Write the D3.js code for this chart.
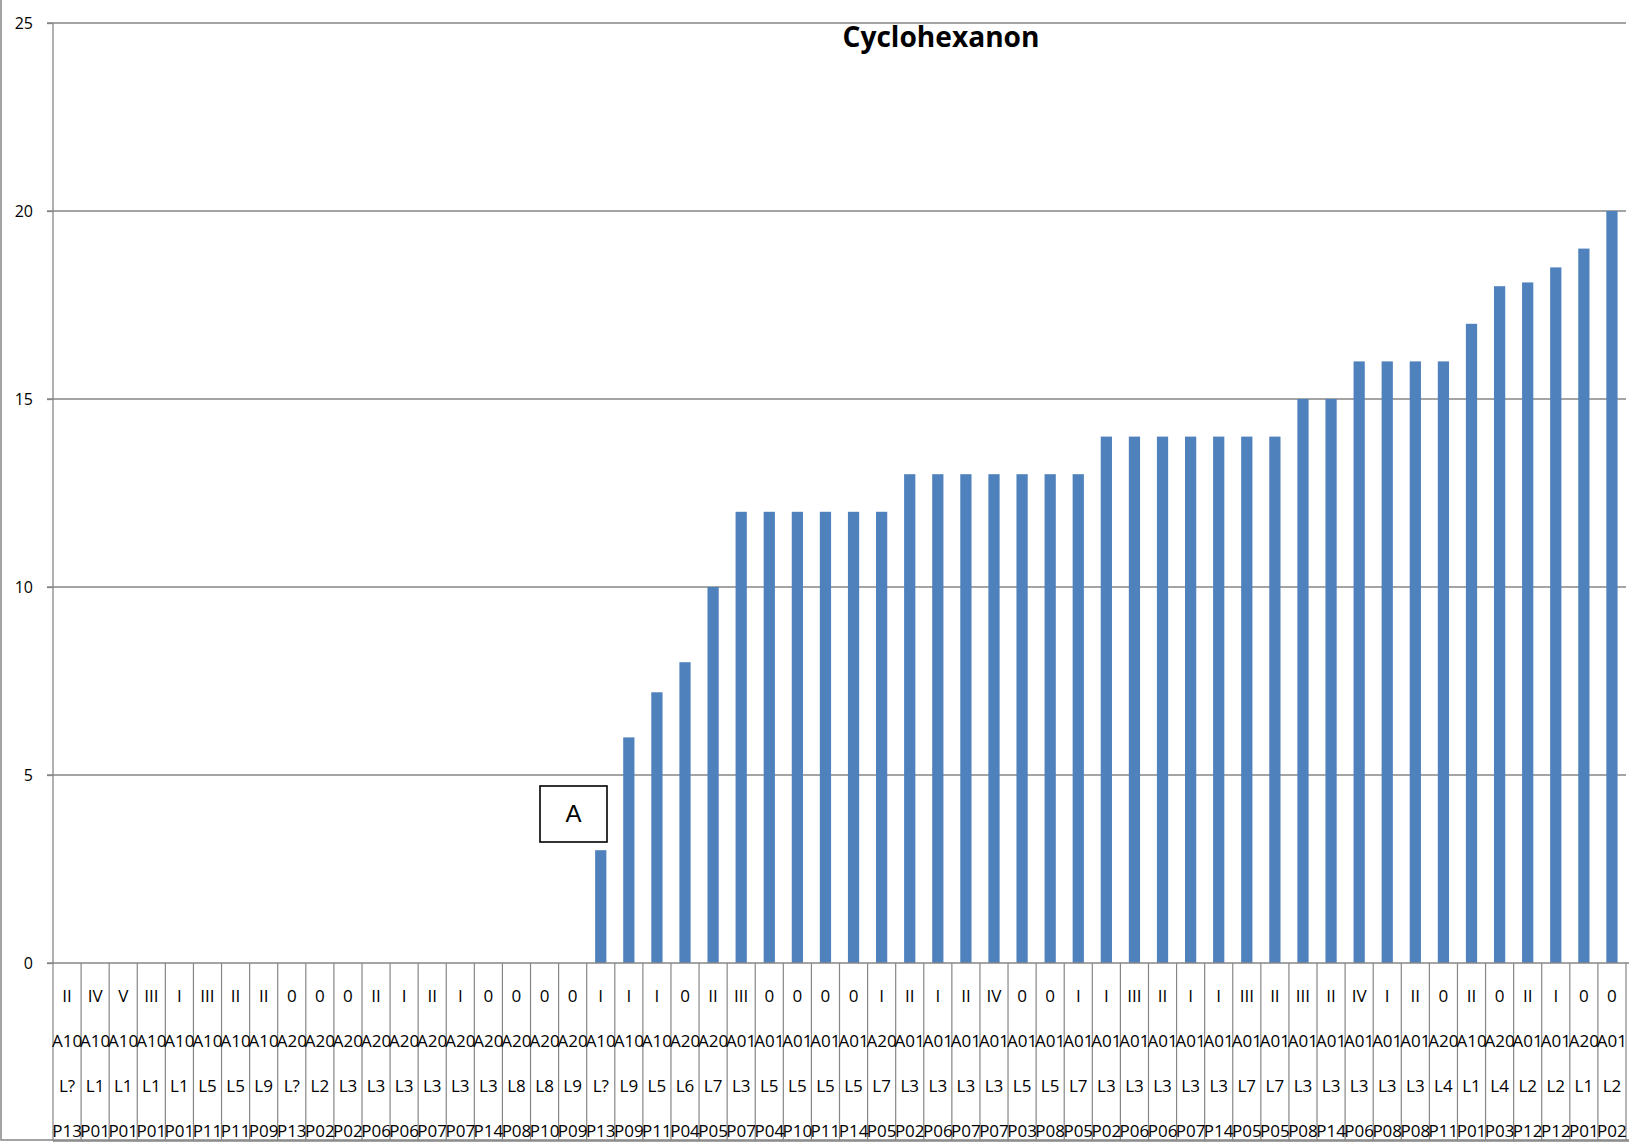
<!DOCTYPE html>
<html><head><meta charset="utf-8">
<script src="https://cdn.jsdelivr.net/npm/d3@7"></script>
<style>
html,body{margin:0;padding:0;background:#fff;}
svg{display:block;font-family:"Open Sans","Liberation Sans",sans-serif;}
</style></head>
<body>
<svg id="chart" width="1629" height="1144"></svg>
<script>
const title = "Cyclohexanon";
const classRow = ["II","IV","V","III","I","III","II","II","0","0","0","II","I","II","I","0","0","0","0","I","I","I","0","II","III","0","0","0","0","I","II","I","II","IV","0","0","I","I","III","II","I","I","III","II","III","II","IV","I","II","0","II","0","II","I","0","0"];
const areaRow = ["A10","A10","A10","A10","A10","A10","A10","A10","A20","A20","A20","A20","A20","A20","A20","A20","A20","A20","A20","A10","A10","A10","A20","A20","A01","A01","A01","A01","A01","A20","A01","A01","A01","A01","A01","A01","A01","A01","A01","A01","A01","A01","A01","A01","A01","A01","A01","A01","A01","A20","A10","A20","A01","A01","A20","A01"];
const layerRow = ["L?","L1","L1","L1","L1","L5","L5","L9","L?","L2","L3","L3","L3","L3","L3","L3","L8","L8","L9","L?","L9","L5","L6","L7","L3","L5","L5","L5","L5","L7","L3","L3","L3","L3","L5","L5","L7","L3","L3","L3","L3","L3","L7","L7","L3","L3","L3","L3","L3","L4","L1","L4","L2","L2","L1","L2"];
const posRow = ["P13","P01","P01","P01","P01","P11","P11","P09","P13","P02","P02","P06","P06","P07","P07","P14","P08","P10","P09","P13","P09","P11","P04","P05","P07","P04","P10","P11","P14","P05","P02","P06","P07","P07","P03","P08","P05","P02","P06","P06","P07","P14","P05","P05","P08","P14","P06","P08","P08","P11","P01","P03","P12","P12","P01","P02"];
const values = [0,0,0,0,0,0,0,0,0,0,0,0,0,0,0,0,0,0,0,3,6,7.2,8,10,12,12,12,12,12,12,13,13,13,13,13,13,13,14,14,14,14,14,14,14,15,15,16,16,16,16,17,18,18.1,18.5,19,20];
const yTicks = [0,5,10,15,20,25];
const annotation = "A";

const svg = d3.select("#chart");
const L = 53, R = 1626, T = 23, B = 963, TB = 1141;
const idx = d3.range(values.length);
const x = d3.scaleBand().domain(idx).range([L, R]).paddingInner(0.6).paddingOuter(0.3);
const xb = d3.scaleBand().domain(idx).range([L, R]);
const y = d3.scaleLinear().domain([0, 25]).range([B, T]);
const grey = "#868686";

// outer frame
svg.append("rect").attr("x",1).attr("y",-2).attr("width",1640).attr("height",TB+1)
  .attr("fill","none").attr("stroke",grey).attr("stroke-width",1.5);

// gridlines
svg.append("g").selectAll("line").data(yTicks.filter(d=>d>0)).join("line")
  .attr("x1", L-6).attr("x2", R).attr("y1", d=>y(d)).attr("y2", d=>y(d))
  .attr("stroke", grey).attr("stroke-width", 1.3);

// y axis
const ya = d3.axisLeft(y).tickValues(yTicks).tickSize(6).tickPadding(14);
const gy = svg.append("g").attr("transform",`translate(${L},0)`).call(ya);
gy.select(".domain").attr("stroke",grey).attr("stroke-width",1.3).attr("d",`M0,${B}V${T}`);
gy.selectAll(".tick line").attr("stroke",grey).attr("stroke-width",1.3);
gy.selectAll(".tick text").attr("font-size",16).attr("fill","#000")
  .attr("font-family","'Open Sans','Liberation Sans',sans-serif");

// bars
svg.append("g").selectAll("rect").data(idx).join("rect")
  .attr("x", i=>x(i)).attr("width", x.bandwidth())
  .attr("y", i=>y(values[i])).attr("height", i=>y(0)-y(values[i]))
  .attr("fill", "#4F81BD");

// category table
const tg = svg.append("g");
tg.append("line").attr("x1",L-6).attr("x2",R+3).attr("y1",B).attr("y2",B).attr("stroke",grey).attr("stroke-width",1.3);
tg.append("line").attr("x1",L).attr("x2",R+3).attr("y1",TB).attr("y2",TB).attr("stroke",grey).attr("stroke-width",1.3);
tg.selectAll("line.sep").data(idx.concat([values.length])).join("line").attr("class","sep")
  .attr("x1", i=> i<values.length ? xb(i) : R).attr("x2", i=> i<values.length ? xb(i) : R)
  .attr("y1", B).attr("y2", TB).attr("stroke", grey).attr("stroke-width",1.2);
const rows = [classRow, areaRow, layerRow, posRow];
const rowY = [995, 1040, 1085, 1130];
rows.forEach((row, r) => {
  tg.append("g").selectAll("text").data(idx).join("text")
    .attr("x", i=> xb(i) + xb.bandwidth()/2).attr("y", rowY[r])
    .attr("text-anchor","middle").attr("dominant-baseline","central")
    .attr("font-size",17).attr("fill","#000")
    .attr("font-family","'Open Sans','Liberation Sans',sans-serif")
    .text(i=>row[i]);
});

// title
svg.append("text").attr("x", 941).attr("y", 47).attr("text-anchor","middle")
  .attr("font-size",28).attr("font-weight","bold").attr("fill","#000")
  .attr("font-family","'Open Sans','Liberation Sans',sans-serif")
  .attr("textLength",197).attr("lengthAdjust","spacingAndGlyphs")
  .text(title);

// annotation box
svg.append("rect").attr("x",540).attr("y",786).attr("width",67).attr("height",56)
  .attr("fill","#fff").attr("stroke","#000").attr("stroke-width",1.6);
svg.append("text").attr("x",573.5).attr("y",822).attr("text-anchor","middle")
  .attr("font-size",24).attr("fill","#000").attr("font-family","'Liberation Sans',sans-serif")
  .text(annotation);
</script>
</body></html>
